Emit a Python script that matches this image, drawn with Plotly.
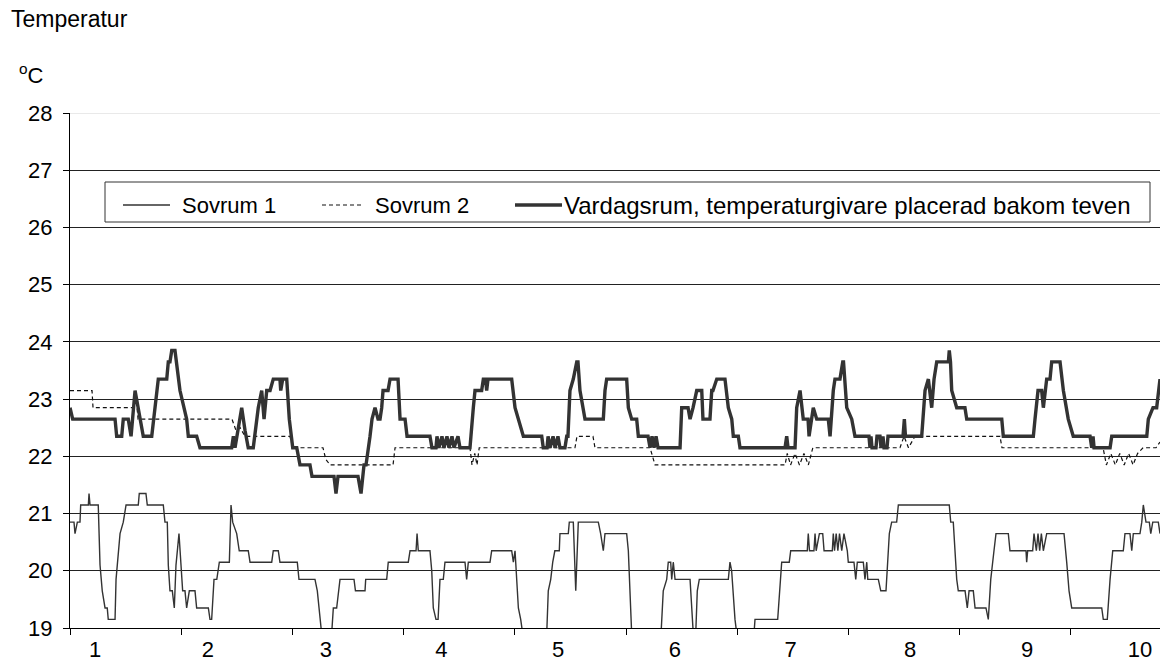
import plotly.graph_objects as go

# Sovrum 1 (tunn linje): tid i dygn från start, temperatur i °C
s1_dag = [0.000, 0.036, 0.045, 0.066, 0.090, 0.096, 0.165, 0.171, 0.180, 0.254,
          0.270, 0.290, 0.315, 0.335, 0.344, 0.405, 0.414, 0.425, 0.450, 0.479,
          0.504, 0.614, 0.623, 0.683, 0.695, 0.839, 0.854, 0.875, 0.884, 0.899,
          0.920, 0.938, 0.953, 0.980, 0.996, 1.013, 1.034, 1.049, 1.073, 1.124,
          1.139, 1.244, 1.259, 1.274, 1.295, 1.320, 1.343, 1.433, 1.448, 1.463,
          1.499, 1.522, 1.603, 1.619, 1.814, 1.828, 1.873, 1.888, 2.044, 2.059,
          2.203, 2.224, 2.263, 2.353, 2.368, 2.398, 2.428, 2.554, 2.567, 2.653,
          2.659, 2.848, 2.862, 3.042, 3.058, 3.112, 3.121, 3.132, 3.237, 3.253,
          3.267, 3.291, 3.310, 3.327, 3.357, 3.372, 3.552, 3.567, 3.582, 3.777,
          3.792, 3.972, 3.987, 4.002, 4.032, 4.053, 4.071, 4.287, 4.301, 4.323,
          4.341, 4.360, 4.400, 4.406, 4.481, 4.490, 4.526, 4.548, 4.571, 4.751,
          4.772, 4.796, 4.811, 5.006, 5.021, 5.051, 5.315, 5.335, 5.366, 5.380,
          5.402, 5.411, 5.425, 5.441, 5.576, 5.605, 5.627, 5.641, 5.659, 5.920,
          5.935, 5.950, 5.980, 5.996, 6.151, 6.160, 6.364, 6.400, 6.468, 6.481,
          6.630, 6.639, 6.650, 6.690, 6.700, 6.710, 6.739, 6.769, 6.781, 6.855,
          6.864, 6.875, 6.890, 6.905, 6.920, 6.940, 6.960, 6.990, 6.999, 7.050,
          7.066, 7.080, 7.134, 7.149, 7.165, 7.174, 7.269, 7.291, 7.338, 7.350,
          7.368, 7.389, 7.434, 7.449, 7.907, 7.920, 7.943, 7.974, 7.988, 8.049,
          8.069, 8.085, 8.123, 8.139, 8.237, 8.258, 8.280, 8.309, 8.327, 8.438,
          8.453, 8.597, 8.603, 8.612, 8.657, 8.669, 8.690, 8.705, 8.720, 8.735,
          8.753, 8.783, 8.939, 8.963, 8.984, 9.008, 9.278, 9.292, 9.328, 9.353,
          9.377, 9.472, 9.487, 9.532, 9.548, 9.562, 9.622, 9.638, 9.652, 9.676,
          9.706, 9.719, 9.737, 9.787, 9.802]
s1_temp = [20.85, 20.85, 20.65, 20.85, 20.85, 21.15, 21.15, 21.35, 21.15, 21.15,
           20.10, 19.65, 19.35, 19.35, 19.15, 19.15, 19.85, 20.15, 20.65, 20.85,
           21.15, 21.15, 21.35, 21.35, 21.15, 21.15, 20.85, 20.85, 20.10, 19.65,
           19.65, 19.35, 20.10, 20.65, 20.10, 19.65, 19.65, 19.35, 19.65, 19.65,
           19.35, 19.35, 19.15, 19.15, 19.85, 19.85, 20.15, 20.15, 21.15, 20.85,
           20.65, 20.35, 20.35, 20.15, 20.15, 20.35, 20.35, 20.15, 20.15, 19.85,
           19.85, 19.65, 18.90, 18.90, 19.35, 19.35, 19.85, 19.85, 19.65, 19.65,
           19.85, 19.85, 20.15, 20.15, 20.35, 20.35, 20.65, 20.35, 20.35, 20.00,
           19.35, 19.15, 19.15, 19.85, 19.85, 20.15, 20.15, 19.85, 20.15, 20.15,
           20.35, 20.35, 20.15, 20.35, 19.35, 19.15, 18.90, 18.90, 19.65, 19.85,
           20.15, 20.35, 20.35, 20.65, 20.65, 20.85, 20.85, 19.65, 20.85, 20.85,
           20.65, 20.35, 20.65, 20.65, 20.35, 18.90, 18.90, 19.65, 19.85, 20.15,
           20.15, 19.85, 20.15, 19.85, 19.85, 18.90, 18.90, 19.65, 19.85, 19.85,
           20.15, 20.00, 19.15, 18.90, 18.90, 19.15, 19.15, 20.15, 20.15, 20.35,
           20.35, 20.65, 20.35, 20.35, 20.65, 20.35, 20.65, 20.65, 20.35, 20.35,
           20.65, 20.35, 20.65, 20.35, 20.65, 20.35, 20.65, 20.35, 20.15, 20.15,
           19.85, 20.15, 20.15, 19.85, 20.15, 19.85, 19.85, 19.65, 19.65, 20.00,
           20.65, 20.85, 20.85, 21.15, 21.15, 20.85, 20.85, 19.85, 19.65, 19.65,
           19.35, 19.65, 19.65, 19.35, 19.35, 19.15, 19.85, 20.35, 20.65, 20.65,
           20.35, 20.35, 20.15, 20.35, 20.35, 20.65, 20.35, 20.65, 20.35, 20.65,
           20.35, 20.65, 20.65, 20.15, 19.65, 19.35, 19.35, 19.15, 19.15, 19.85,
           20.35, 20.35, 20.65, 20.65, 20.35, 20.65, 20.65, 20.85, 21.15, 20.85,
           20.85, 20.65, 20.85, 20.85, 20.65]

# Sovrum 2 (streckad linje)
s2_dag = [0.000, 0.198, 0.207, 0.603, 0.612, 1.457, 1.493, 1.530, 1.574, 1.978,
          2.005, 2.275, 2.300, 2.338, 2.905, 2.923, 3.597, 3.615, 3.640, 3.660,
          3.680, 3.732, 4.541, 4.559, 4.703, 4.721, 5.216, 5.261, 6.430, 6.450,
          6.480, 6.520, 6.560, 6.600, 6.640, 6.680, 6.924, 7.464, 7.500, 7.540,
          7.599, 8.363, 8.381, 9.290, 9.320, 9.360, 9.400, 9.440, 9.480, 9.520,
          9.560, 9.600, 9.649, 9.766, 9.802]
s2_temp = [23.15, 23.15, 22.85, 22.85, 22.65, 22.65, 22.45, 22.50, 22.35, 22.35,
           22.15, 22.15, 21.95, 21.85, 21.85, 22.15, 22.15, 21.85, 22.05, 21.85,
           22.15, 22.15, 22.15, 22.35, 22.35, 22.15, 22.15, 21.85, 21.85, 22.05,
           21.85, 22.05, 21.85, 22.05, 21.85, 22.15, 22.15, 22.15, 22.35, 22.15,
           22.35, 22.35, 22.15, 22.15, 21.85, 22.05, 21.85, 22.05, 21.85, 22.05,
           21.85, 22.05, 22.15, 22.15, 22.25]

# Vardagsrum (tjock linje)
v_dag = [0.000, 0.024, 0.405, 0.420, 0.465, 0.479, 0.524, 0.549, 0.585, 0.629,
         0.659, 0.735, 0.779, 0.794, 0.870, 0.884, 0.899, 0.915, 0.944, 0.989,
         1.049, 1.064, 1.139, 1.169, 1.454, 1.469, 1.484, 1.544, 1.574, 1.603,
         1.648, 1.693, 1.724, 1.745, 1.769, 1.799, 1.828, 1.888, 1.895, 1.913,
         1.949, 1.972, 2.003, 2.039, 2.068, 2.158, 2.176, 2.374, 2.392, 2.410,
         2.590, 2.617, 2.644, 2.662, 2.698, 2.716, 2.743, 2.770, 2.788, 2.803,
         2.815, 2.860, 2.878, 2.950, 2.968, 3.013, 3.031, 3.237, 3.255, 3.291,
         3.300, 3.318, 3.345, 3.363, 3.390, 3.408, 3.435, 3.453, 3.489, 3.507,
         3.588, 3.597, 3.627, 3.642, 3.702, 3.717, 3.737, 3.747, 3.759, 3.972,
         4.002, 4.029, 4.077, 4.242, 4.256, 4.290, 4.299, 4.317, 4.344, 4.362,
         4.388, 4.406, 4.451, 4.467, 4.478, 4.496, 4.526, 4.557, 4.568, 4.586,
         4.616, 4.631, 4.796, 4.811, 4.826, 5.006, 5.021, 5.051, 5.096, 5.111,
         5.198, 5.216, 5.234, 5.252, 5.270, 5.288, 5.486, 5.501, 5.558, 5.576,
         5.603, 5.636, 5.681, 5.692, 5.755, 5.771, 5.782, 5.816, 5.890, 5.920,
         5.951, 5.965, 6.010, 6.025, 6.430, 6.445, 6.457, 6.520, 6.535, 6.565,
         6.594, 6.637, 6.646, 6.684, 6.715, 6.819, 6.835, 6.864, 6.879, 6.924,
         6.949, 6.956, 6.985, 7.030, 7.059, 7.185, 7.194, 7.203, 7.212, 7.248,
         7.257, 7.284, 7.293, 7.311, 7.320, 7.347, 7.356, 7.491, 7.503, 7.513,
         7.659, 7.689, 7.719, 7.749, 7.770, 7.794, 7.899, 7.907, 7.918, 7.929,
         7.974, 8.048, 8.064, 8.379, 8.393, 8.663, 8.678, 8.705, 8.738, 8.753,
         8.783, 8.813, 8.828, 8.903, 8.933, 8.977, 9.022, 9.173, 9.188, 9.200,
         9.209, 9.353, 9.368, 9.683, 9.697, 9.739, 9.772, 9.802]
v_temp = [22.85, 22.65, 22.65, 22.35, 22.35, 22.65, 22.65, 22.35, 23.15, 22.65,
          22.35, 22.35, 23.15, 23.35, 23.35, 23.65, 23.65, 23.85, 23.85, 23.15,
          22.65, 22.35, 22.35, 22.15, 22.15, 22.35, 22.15, 22.85, 22.45, 22.15,
          22.15, 22.85, 23.15, 22.65, 23.15, 23.15, 23.35, 23.35, 23.15, 23.35,
          23.35, 22.65, 22.15, 22.15, 21.85, 21.85, 21.65, 21.65, 21.35, 21.65,
          21.65, 21.35, 21.85, 21.85, 22.35, 22.65, 22.85, 22.65, 22.65, 22.85,
          23.15, 23.15, 23.35, 23.35, 22.65, 22.65, 22.35, 22.35, 22.15, 22.15,
          22.35, 22.15, 22.35, 22.15, 22.35, 22.15, 22.35, 22.15, 22.35, 22.15,
          22.15, 22.15, 22.85, 23.15, 23.15, 23.35, 23.35, 23.15, 23.35, 23.35,
          22.85, 22.65, 22.35, 22.35, 22.15, 22.15, 22.35, 22.15, 22.35, 22.15,
          22.35, 22.15, 22.15, 22.35, 22.35, 23.15, 23.35, 23.65, 23.65, 23.15,
          22.85, 22.65, 22.65, 23.15, 23.35, 23.35, 22.85, 22.65, 22.65, 22.35,
          22.35, 22.15, 22.35, 22.15, 22.35, 22.15, 22.15, 22.85, 22.85, 22.65,
          22.85, 23.15, 23.15, 22.65, 22.65, 23.15, 23.15, 23.35, 23.35, 22.85,
          22.65, 22.35, 22.35, 22.15, 22.15, 22.35, 22.15, 22.15, 22.85, 23.15,
          22.65, 22.65, 22.35, 22.85, 22.65, 22.65, 22.35, 23.15, 23.35, 23.35,
          23.65, 23.65, 22.85, 22.65, 22.35, 22.35, 22.15, 22.35, 22.15, 22.15,
          22.35, 22.35, 22.15, 22.35, 22.15, 22.15, 22.35, 22.35, 22.65, 22.35,
          22.35, 23.15, 23.35, 22.85, 23.35, 23.65, 23.65, 23.85, 23.65, 23.15,
          22.85, 22.85, 22.65, 22.65, 22.35, 22.35, 22.65, 23.15, 23.15, 22.85,
          23.35, 23.35, 23.65, 23.65, 23.15, 22.65, 22.35, 22.35, 22.15, 22.35,
          22.15, 22.15, 22.35, 22.35, 22.65, 22.85, 22.85, 23.35]

# Dagsetiketter på x-axeln och deras lägen (dygn)
dag_etiketter = ["1", "2", "3", "4", "5", "6", "7", "8", "9", "10"]
etikett_lage = [0.225, 1.240, 2.300, 3.340, 4.390, 5.440, 6.480, 7.554, 8.606, 9.622]
dygnsgranser = [0, 1, 2, 3, 4, 5, 6, 7, 8, 9]

y_tickar = [19, 20, 21, 22, 23, 24, 25, 26, 27, 28]

FONT = "Liberation Sans, Arial, sans-serif"
LINE_COLOR = "#333333"

# plotytans storlek i pixlar, för att placera förklaringsrutan
PLOT_L, PLOT_T, PLOT_W, PLOT_H = 70, 113, 1090, 515


def px_x(px):
    return (px - PLOT_L) / PLOT_W


def px_y(py):
    return 1 - (py - PLOT_T) / PLOT_H


serier = [
    dict(namn="Sovrum 1", x=s1_dag, y=s1_temp, textstorlek=22,
         linje=dict(color=LINE_COLOR, width=1.4)),
    dict(namn="Sovrum 2", x=s2_dag, y=s2_temp, textstorlek=22,
         linje=dict(color="#111111", width=1.2, dash="4px,3px")),
    dict(namn="Vardagsrum, temperaturgivare placerad bakom teven",
         x=v_dag, y=v_temp, textstorlek=24,
         linje=dict(color=LINE_COLOR, width=3.4)),
]

fig = go.Figure()
for s in serier:
    fig.add_trace(go.Scatter(x=s["x"], y=s["y"], mode="lines", name=s["namn"],
                             line=s["linje"], showlegend=False))

fig.update_layout(
    width=1161, height=660,
    margin=dict(l=PLOT_L, r=1, t=PLOT_T, b=32),
    paper_bgcolor="white", plot_bgcolor="white",
    font=dict(family=FONT, color="black", size=22),
    showlegend=False,
    xaxis=dict(
        range=[0, 9.802], showgrid=False, zeroline=False, automargin=False,
        showline=True, linecolor="black", linewidth=1,
        tickmode="array", tickvals=etikett_lage, ticktext=dag_etiketter,
        ticks="", ticklabelstandoff=2,
        tickfont=dict(size=22, family=FONT),
        minor=dict(tickmode="array", tickvals=dygnsgranser, ticks="outside",
                   ticklen=6, tickcolor="black", showgrid=False),
    ),
    yaxis=dict(
        range=[19, 28], tickmode="array", tickvals=y_tickar, automargin=False,
        showgrid=True, gridcolor="#222222", gridwidth=1,
        zeroline=False, showline=True, linecolor="black", linewidth=1,
        ticks="outside", ticklen=6, tickcolor="black", ticklabelstandoff=6,
        tickfont=dict(size=22, family=FONT),
    ),
)

# översta stödlinjen är ljusare
fig.add_shape(type="line", xref="paper", yref="y", x0=0, x1=1, y0=28, y1=28,
              line=dict(color="#d4d4d4", width=1), layer="above")

# förklaringsruta med linjeprov och seriernas namn
fig.add_shape(type="rect", xref="paper", yref="paper",
              x0=px_x(105), x1=px_x(1150), y0=px_y(182), y1=px_y(222),
              line=dict(color=LINE_COLOR, width=1), fillcolor="white",
              layer="above")
prov_x = [(123, 170), (322, 362), (515, 562)]
text_x = [182, 375, 564]
for s, (a, b), tx in zip(serier, prov_x, text_x):
    fig.add_shape(type="line", xref="paper", yref="paper",
                  x0=px_x(a), x1=px_x(b), y0=px_y(205), y1=px_y(205),
                  line=s["linje"], layer="above")
    fig.add_annotation(text=s["namn"], xref="paper", yref="paper",
                       x=px_x(tx - 1), y=px_y(205), xanchor="left",
                       yanchor="middle", showarrow=False, borderpad=0,
                       font=dict(size=s["textstorlek"], family=FONT))

fig.add_annotation(text="Temperatur", xref="paper", yref="paper",
                   x=px_x(10), y=px_y(19), xanchor="left", yanchor="middle",
                   showarrow=False, borderpad=0, font=dict(size=23, family=FONT))
fig.add_annotation(text="<sup>o</sup>C", xref="paper", yref="paper",
                   x=px_x(18), y=px_y(74), xanchor="left", yanchor="middle",
                   showarrow=False, borderpad=0, font=dict(size=22, family=FONT))

fig.write_html("out.html")
